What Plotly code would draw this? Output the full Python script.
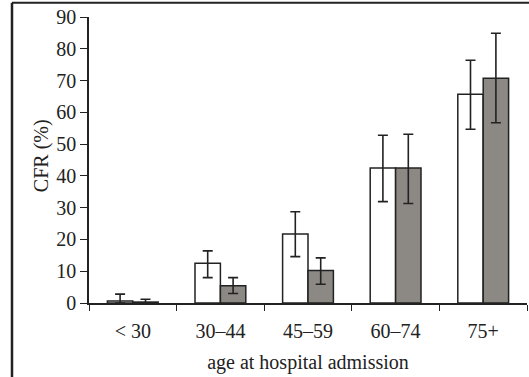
import plotly.graph_objects as go

categories = ["< 30", "30–44", "45–59", "60–74", "75+"]
white_vals = [0.6, 12.5, 21.7, 42.5, 65.7]
white_hi = [2.8, 16.4, 28.7, 52.8, 76.4]
white_lo = [0.0, 8.0, 14.6, 31.9, 54.7]
gray_vals = [0.3, 5.4, 10.2, 42.5, 70.7]
gray_hi = [1.2, 8.0, 14.2, 53.1, 84.9]
gray_lo = [0.0, 3.0, 5.9, 31.3, 56.7]

def err(vals, hi, lo):
    return dict(type="data", symmetric=False,
                array=[h - v for h, v in zip(hi, vals)],
                arrayminus=[max(v - l, 0) for v, l in zip(vals, lo)],
                color="#222", thickness=1.6, width=5)

fig = go.Figure()
fig.add_trace(go.Bar(x=categories, y=white_vals, marker=dict(color="white", line=dict(color="#222", width=1.5)),
                     error_y=err(white_vals, white_hi, white_lo), showlegend=False))
fig.add_trace(go.Bar(x=categories, y=gray_vals, marker=dict(color="#8c8884", line=dict(color="#222", width=1.5)),
                     error_y=err(gray_vals, gray_hi, gray_lo), showlegend=False))

serif = "Liberation Serif"
title_font = dict(family=serif, size=20, color="#222")
tick_font = dict(family=serif, size=20, color="#222")
fig.update_layout(
    width=529, height=377,
    margin=dict(l=89, r=2, t=17, b=74, autoexpand=False),
    paper_bgcolor="white", plot_bgcolor="white",
    barmode="group", bargap=0.42, bargroupgap=0,
    font=dict(family=serif, size=20, color="#222"),
    xaxis=dict(range=[-0.5, 4.5], showline=True, linecolor="#222", linewidth=1.5,
               ticks="outside", tickson="boundaries", ticklen=6, tickcolor="#222",
               showgrid=False, automargin=False, tickfont=tick_font, ticklabelstandoff=9,
               title=dict(text="age at hospital admission", standoff=14, font=title_font)),
    yaxis=dict(range=[0, 90], dtick=10, showline=True, linecolor="#222", linewidth=1.5,
               ticks="outside", ticklen=7, tickcolor="#222", showgrid=False, zeroline=False,
               automargin=False, tickfont=tick_font, ticklabelstandoff=0),
    annotations=[dict(text="CFR (%)", textangle=-90, xref="paper", yref="paper",
                      x=-0.1096, y=0.517, xanchor="center", yanchor="middle",
                      showarrow=False, font=title_font)],
    shapes=[
        dict(type="line", xref="paper", yref="paper", x0=-0.1758, x1=-0.1758, y0=-0.3, y1=1.05,
             line=dict(color="#222", width=2.5)),
        dict(type="line", xref="paper", yref="paper", x0=-0.1758, x1=1.01, y0=1.05, y1=1.05,
             line=dict(color="#222", width=2)),
    ],
)
fig.write_html("out.html", config={"displayModeBar": False},
               post_script="document.body.style.margin='0';document.body.style.overflow='hidden';")
